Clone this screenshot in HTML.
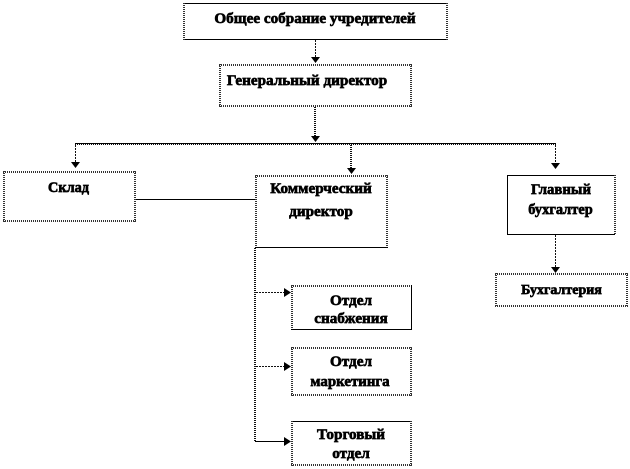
<!DOCTYPE html>
<html><head><meta charset="utf-8"><style>
html,body{margin:0;padding:0;background:#fff;width:630px;height:469px;overflow:hidden}
svg{display:block}
text{font-family:"Liberation Serif",serif;font-weight:bold;font-size:15.2px;fill:#000;text-anchor:middle;stroke:#000;stroke-width:.65px}
.d{fill:none;stroke:#333;stroke-width:2;stroke-dasharray:1 1;shape-rendering:crispEdges}
.p{fill:none;stroke:#000;stroke-width:1;shape-rendering:crispEdges}
.l{fill:none;stroke:#111;stroke-width:2;stroke-dasharray:1 1;shape-rendering:crispEdges}
.v{fill:none;stroke:#111;stroke-width:1;stroke-dasharray:2 1;shape-rendering:crispEdges}
.s{fill:none;stroke:#000;stroke-width:1;shape-rendering:crispEdges}
.a{fill:#000}
</style></head><body>
<svg width="630" height="469" viewBox="0 0 630 469" xmlns="http://www.w3.org/2000/svg">
<path class="l" d="M75 144H556M315 107V138M351 145V170M255 248V441"/>
<path class="v" d="M315.500 40V58M75.500 145V162M555.500 145V165M555.500 235V268M256 292.500H285M256 366.500H285"/>
<path class="s" d="M135 199.500H255M255 441.500H285"/>
<path class="s" d="M75 143.500H556"/>
<path class="a" d="M311 57h9l-4.500 6zM311 136h9l-4.500 6zM71 162h9l-4.500 6zM347 168h9l-4.500 6zM551 163h9l-4.500 6zM551 267h9l-4.500 6zM284 288l7 4.500-7 4.500zM284 362l7 4.500-7 4.500zM284 437l7 4.500-7 4.500z"/>
<path class="p" d="M183 3.500H447M183 39.500H447"/>
<path class="d" d="M184 3V40M447 3V40"/>
<path class="d" d="M219 65H412M219 106H412M220 64V107M411 64V107"/>
<path class="d" d="M3 172H136M3 221H136M4 171V222M135 171V222"/>
<path class="d" d="M255 176H388M256 175V248M387 175V248"/>
<path class="p" d="M255 247.500H388"/>
<path class="p" d="M507 175.500H615M507.500 175V235M507 234.500H615"/>
<path class="d" d="M615 175V235"/>
<path class="d" d="M495 274H628M495 306H628M496 273V307M627 273V307"/>
<path class="d" d="M291 286H412M292 285V330"/>
<path class="p" d="M291 329.500H412M411.500 285V330"/>
<path class="d" d="M291 348H412M291 395H412M292 347V396M411 347V396"/>
<path class="p" d="M291 421.500H412"/>
<path class="d" d="M291 465H412M292 421V466M411 421V466"/>
<text x="315" y="23">Общее собрание учредителей</text>
<text x="307" y="85">Генеральный директор</text>
<text x="68.500" y="192" style="font-size:14.3px">Склад</text>
<text x="321" y="193">Коммерческий</text>
<text x="321" y="216">директор</text>
<text x="561" y="194" style="font-size:14.8px">Главный</text>
<text x="560.500" y="214" style="font-size:14.4px">бухгалтер</text>
<text x="561.500" y="294" style="font-size:14px">Бухгалтерия</text>
<text x="351" y="305">Отдел</text>
<text x="351" y="323">снабжения</text>
<text x="351" y="366">Отдел</text>
<text x="350" y="386" style="font-size:14.9px">маркетинга</text>
<text x="351" y="439">Торговый</text>
<text x="351" y="458">отдел</text>
</svg>
</body></html>
